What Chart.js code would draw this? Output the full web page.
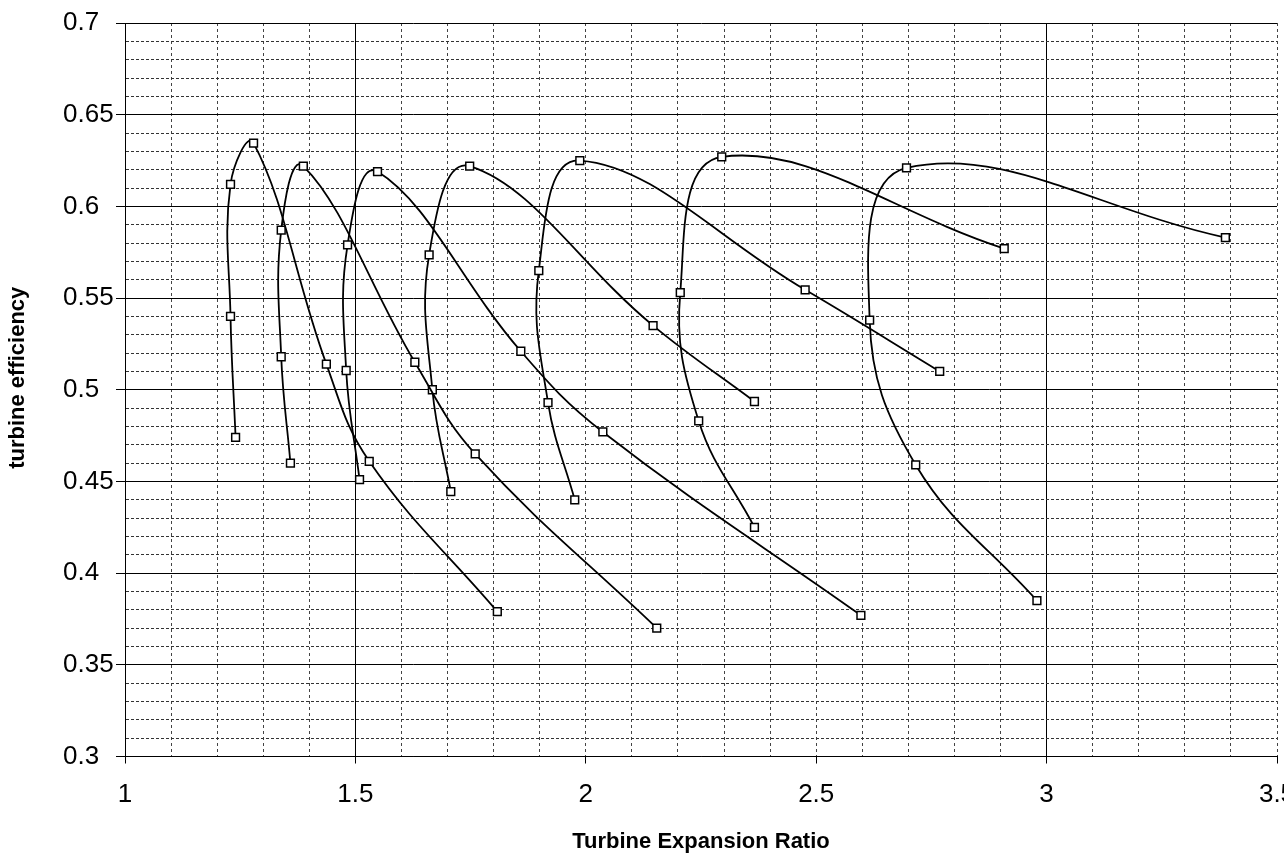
<!DOCTYPE html>
<html>
<head>
<meta charset="utf-8">
<script src="https://cdn.jsdelivr.net/npm/chart.js@4.4.0/dist/chart.umd.min.js"></script>
<style>
    html, body { margin: 0; padding: 0; background: #fff; overflow: hidden; }
    #chart { display: block; }
</style>
</head>
<body>
<canvas id="chart" width="1284" height="861"></canvas>
<script>
// one curve per line on the map: starts low on the left, climbs, peaks, falls away to the right
const curve1Ratio = [1.240, 1.229, 1.229, 1.279, 1.437, 1.530, 1.808];
const curve1Eff   = [0.474, 0.540, 0.612, 0.6345, 0.514, 0.461, 0.379];
const curve2Ratio = [1.359, 1.339, 1.339, 1.387, 1.629, 1.760, 2.154];
const curve2Eff   = [0.460, 0.518, 0.587, 0.622, 0.515, 0.465, 0.370];
const curve3Ratio = [1.509, 1.480, 1.483, 1.548, 1.859, 2.037, 2.597];
const curve3Eff   = [0.451, 0.5105, 0.579, 0.619, 0.521, 0.477, 0.377];
const curve4Ratio = [1.707, 1.667, 1.660, 1.748, 2.146, 2.366];
const curve4Eff   = [0.4445, 0.500, 0.5736, 0.622, 0.535, 0.4936];
const curve5Ratio = [1.976, 1.918, 1.898, 1.987, 2.476, 2.768];
const curve5Eff   = [0.440, 0.493, 0.565, 0.625, 0.5545, 0.510];
const curve6Ratio = [2.366, 2.245, 2.205, 2.295, 2.908];
const curve6Eff   = [0.425, 0.483, 0.553, 0.627, 0.577];
const curve7Ratio = [2.979, 2.716, 2.616, 2.696, 3.388];
const curve7Eff   = [0.385, 0.459, 0.538, 0.621, 0.583];

const xLabelValues = [1, 1.5, 2, 2.5, 3, 3.5];
const yLabelValues = [0.3, 0.35, 0.4, 0.45, 0.5, 0.55, 0.6, 0.65, 0.7];

// vertical lines that print solid on the original, the rest are dashed
const solidXLines = [1.5, 3];

const FONT = "'Liberation Sans', Arial, sans-serif";

const inList = (list, v) => list.some(l => Math.abs(l - v) < 1e-6);
const fmt = v => String(+v.toFixed(2));

const series = [
    [curve1Ratio, curve1Eff],
    [curve2Ratio, curve2Eff],
    [curve3Ratio, curve3Eff],
    [curve4Ratio, curve4Eff],
    [curve5Ratio, curve5Eff],
    [curve6Ratio, curve6Eff],
    [curve7Ratio, curve7Eff]
];

const datasets = series.map(([xs, ys]) => ({
    data: xs.map((x, i) => ({ x: x, y: ys[i] })),
    borderColor: '#000',
    borderWidth: 1.8,
    tension: 0.4,
    fill: false,
    pointStyle: 'rect',
    pointRadius: 5.5,
    pointBorderWidth: 1.5,
    pointBorderColor: '#000',
    pointBackgroundColor: '#fff'
}));

// nudge the rotated title up a little, it sits above the middle of the axis in the original
const titleShift = {
    id: 'titleShift',
    afterLayout(chart) {
        const s = chart.scales.yTitle;
        s.top -= 12;
        s.bottom -= 12;
    }
};

new Chart(document.getElementById('chart').getContext('2d'), {
    type: 'line',
    data: { datasets: datasets },
    plugins: [titleShift],
    options: {
        responsive: false,
        animation: false,
        devicePixelRatio: 1,
        layout: { padding: { top: 23, right: 4, bottom: 0, left: 0 } },
        plugins: {
            legend: { display: false },
            tooltip: { enabled: false }
        },
        scales: {
            x: {
                type: 'linear',
                min: 1,
                max: 3.5,
                ticks: {
                    stepSize: 0.1,
                    autoSkip: false,
                    maxRotation: 0,
                    padding: 16,
                    color: '#000',
                    font: { family: FONT, size: 26 },
                    callback: v => inList(xLabelValues, v) ? fmt(v) : ''
                },
                grid: {
                    lineWidth: 1,
                    color: ctx => inList(solidXLines, ctx.tick.value) ? '#000' : '#444',
                    tickLength: 7,
                    tickColor: ctx => inList(xLabelValues, ctx.tick.value) ? '#000' : 'rgba(0,0,0,0)'
                },
                border: {
                    color: '#000',
                    width: 1,
                    dash: ctx => (ctx.tick && !inList(solidXLines, ctx.tick.value)) ? [3, 3] : []
                },
                title: {
                    display: true,
                    text: 'Turbine Expansion Ratio',
                    color: '#000',
                    font: { family: FONT, size: 22, weight: 'bold' },
                    padding: { top: 0, bottom: 6 }
                },
                afterFit: scale => {
                    scale.height = 104.5;
                    // let the last label run off the edge, as in the original
                    scale.paddingRight = 0;
                }
            },
            y: {
                type: 'linear',
                position: 'left',
                weight: 0,
                min: 0.3,
                max: 0.7,
                ticks: {
                    stepSize: 0.01,
                    autoSkip: false,
                    crossAlign: 'far',
                    color: '#000',
                    font: { family: FONT, size: 26 },
                    callback: v => inList(yLabelValues, v) ? fmt(v) : ''
                },
                grid: {
                    lineWidth: 1,
                    color: ctx => inList(yLabelValues, ctx.tick.value) ? '#000' : '#333',
                    tickLength: 9,
                    tickColor: ctx => inList(yLabelValues, ctx.tick.value) ? '#000' : 'rgba(0,0,0,0)'
                },
                border: {
                    color: '#000',
                    width: 1,
                    dash: ctx => (ctx.tick && !inList(yLabelValues, ctx.tick.value)) ? [3, 2] : []
                },
                afterFit: scale => { scale.width = 62; }
            },
            // holds only the rotated axis title, so the tick labels can sit flush left
            yTitle: {
                type: 'linear',
                position: 'left',
                weight: 1,
                min: 0,
                max: 1,
                ticks: { display: false },
                grid: { display: false },
                border: { display: false },
                title: {
                    display: true,
                    text: 'turbine efficiency',
                    color: '#000',
                    font: { family: FONT, size: 22, weight: 'bold' },
                    padding: { top: 5, bottom: 0 }
                },
                afterFit: scale => { scale.width = 63; }
            }
        }
    }
});
</script>
</body>
</html>
